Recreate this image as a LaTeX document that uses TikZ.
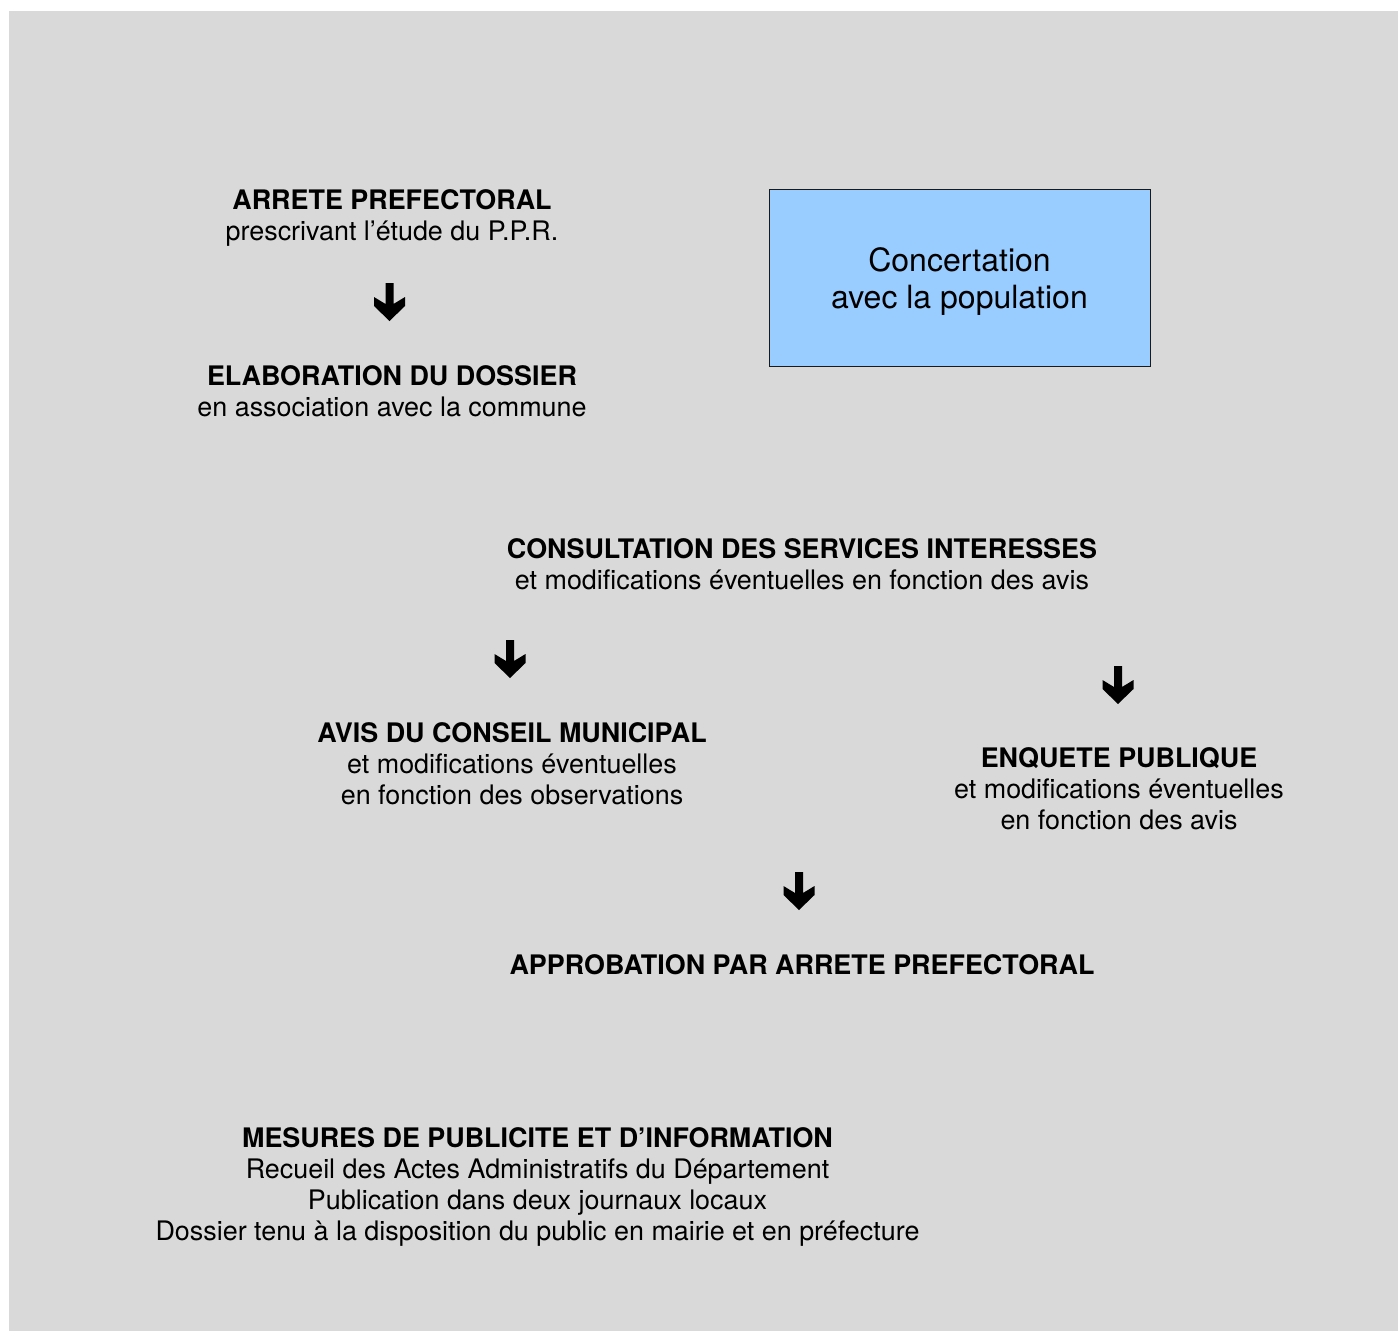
\documentclass[tikz,border=0pt]{standalone}
\usepackage{fontspec}
\setmainfont{TeX Gyre Heros}
\definecolor{bggray}{HTML}{D9D9D9}
\definecolor{boxblue}{HTML}{99CCFF}
\definecolor{boxline}{HTML}{1A1A1A}
\tikzset{
  txt/.style={align=center, inner sep=0pt, anchor=base, font=\fontsize{26.9}{31}\selectfont},
  bigtxt/.style={align=center, inner sep=0pt, font=\fontsize{32}{37}\selectfont},
  bluebox/.style={draw=boxline, line width=1pt, fill=boxblue, minimum width=381pt, minimum height=177pt, inner sep=0pt},
  bigarrow/.pic={\fill[black] (-4,0) -- (4,0) -- (4,21) -- (15.5,14) -- (15.5,23) -- (0,38) -- (-15.5,23) -- (-15.5,14) -- (-4,21) -- cycle;}
}
\begin{document}
\begin{tikzpicture}[x=1pt,y=-1pt]
\useasboundingbox (0,0) rectangle (1398,1331);
\fill[bggray] (9,11) rectangle (1398,1331);

\node[txt] (arrete) at (392,240) {\textbf{ARRETE PREFECTORAL}\\prescrivant l’étude du P.P.R.};
\pic at (389.5,283) {bigarrow};
\node[txt] (elab) at (392,416) {\textbf{ELABORATION DU DOSSIER}\\en association avec la commune};

\node[bluebox] (concert) at (959.5,277.5) {};
\node[bigtxt] (concerttxt) at (959.5,282) {Concertation\\avec la population};

\node[txt] (consult) at (802,589) {\textbf{CONSULTATION DES SERVICES INTERESSES}\\et modifications éventuelles en fonction des avis};
\pic at (510,640) {bigarrow};
\node[txt] (avis) at (512,804) {\textbf{AVIS DU CONSEIL MUNICIPAL}\\et modifications éventuelles\\en fonction des observations};
\pic at (1118,666) {bigarrow};
\node[txt] (enquete) at (1119,829) {\textbf{ENQUETE PUBLIQUE}\\et modifications éventuelles\\en fonction des avis};
\pic at (799,872) {bigarrow};
\node[txt] (approb) at (802,974) {\textbf{APPROBATION PAR ARRETE PREFECTORAL}};
\node[txt] (mesures) at (537.5,1240) {\textbf{MESURES DE PUBLICITE ET D’INFORMATION}\\Recueil des Actes Administratifs du Département\\Publication dans deux journaux locaux\\Dossier tenu à la disposition du public en mairie et en préfecture};
\end{tikzpicture}
\end{document}
